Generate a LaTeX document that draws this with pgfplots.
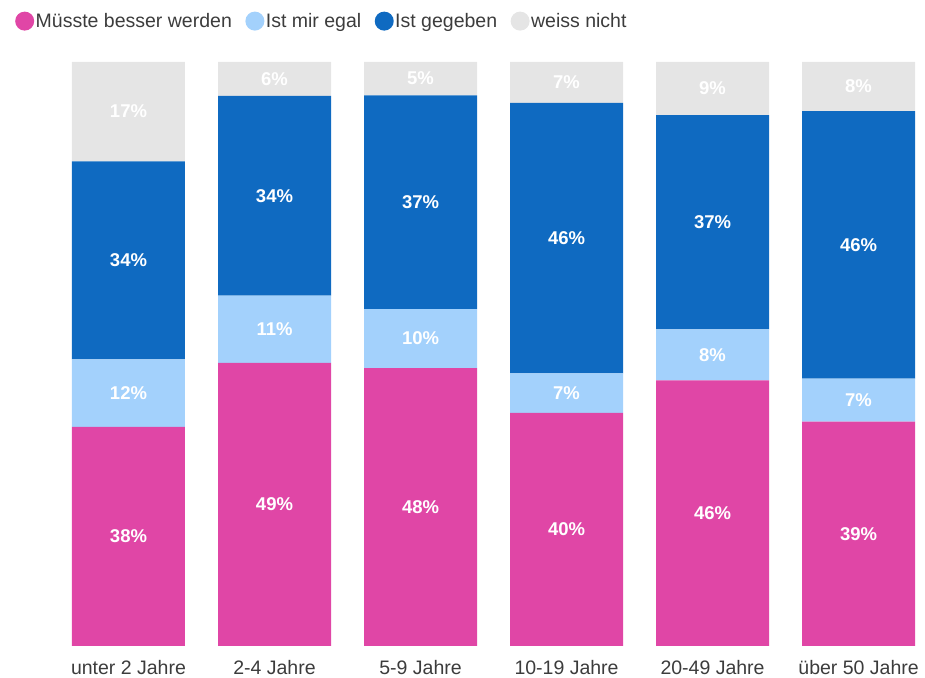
\documentclass[border=0pt]{standalone}
\usepackage{fontspec}
\setmainfont{Liberation Sans}
\usepackage{pgfplots}
\pgfplotsset{compat=1.18}
\definecolor{cpink}{RGB}{224,70,166}
\definecolor{clight}{RGB}{163,209,252}
\definecolor{cblue}{RGB}{15,106,193}
\definecolor{cgray}{RGB}{229,229,229}
\definecolor{ctext}{RGB}{60,60,60}

\pgfplotsset{
  base/.style={
    scale only axis, width=925bp, height=584bp,
    at={(0,0)}, anchor=south west,
    xmin=-0.880, xmax=5.455, ymin=0, ymax=100,
    axis line style={draw=none}, ytick=\empty,
    xtick={0,1,2,3,4,5}, major tick length=0pt,
  },
}

\begin{document}
\begin{tikzpicture}
\begin{axis}[base,
    ybar stacked, bar width=113bp,
    xticklabels={unter 2 Jahre, 2-4 Jahre, 5-9 Jahre, 10-19 Jahre, 20-49 Jahre, über 50 Jahre},
    xticklabel style={font=\fontsize{19.5bp}{21bp}\selectfont, text=ctext, yshift=-11bp},
    legend columns=4,
    legend style={at={(0.013,1.070)}, anchor=west, draw=none, fill=none,
      font=\fontsize{19.5bp}{21bp}\selectfont, text=ctext,
      /tikz/every even column/.append style={column sep=12bp},
      nodes={inner sep=1.5bp}},
    legend image code/.code={\fill[#1,draw=none] (9bp,0bp) circle (9.5bp);},
]
\addplot[fill=cpink, draw=none] coordinates {(0,37.5) (1,48.5) (2,47.6) (3,39.9) (4,45.5) (5,38.4)};
\addplot[fill=clight, draw=none] coordinates {(0,11.6) (1,11.5) (2,10.1) (3,6.8) (4,8.7) (5,7.4)};
\addplot[fill=cblue, draw=none] coordinates {(0,33.9) (1,34.2) (2,36.6) (3,46.3) (4,36.7) (5,45.8)};
\addplot[fill=cgray, draw=none] coordinates {(0,17.0) (1,5.8) (2,5.7) (3,7.0) (4,9.1) (5,8.4)};
\legend{Müsste besser werden, Ist mir egal, Ist gegeben, weiss nicht}
\end{axis}
\begin{axis}[base, xticklabels={}]
\addplot[only marks, mark=*, mark size=0pt, mark options={draw=none, fill=none},
  point meta=explicit symbolic,
  nodes near coords={\pgfplotspointmeta\%},
  nodes near coords style={anchor=center, text=white,
    font=\bfseries\fontsize{18.5bp}{20bp}\selectfont}]
  table[meta=lab] {
x y lab
0 18.75 38
0 43.30 12
0 66.05 34
0 91.50 17
1 24.25 49
1 54.25 11
1 77.10 34
1 97.10 6
2 23.80 48
2 52.65 10
2 76.00 37
2 97.15 5
3 19.95 40
3 43.30 7
3 69.85 46
3 96.50 7
4 22.75 46
4 49.85 8
4 72.55 37
4 95.45 9
5 19.20 39
5 42.10 7
5 68.70 46
5 95.80 8
};
\end{axis}
\pgfresetboundingbox
\useasboundingbox (0,-32bp) rectangle (925bp,646bp);
\end{tikzpicture}
\end{document}
